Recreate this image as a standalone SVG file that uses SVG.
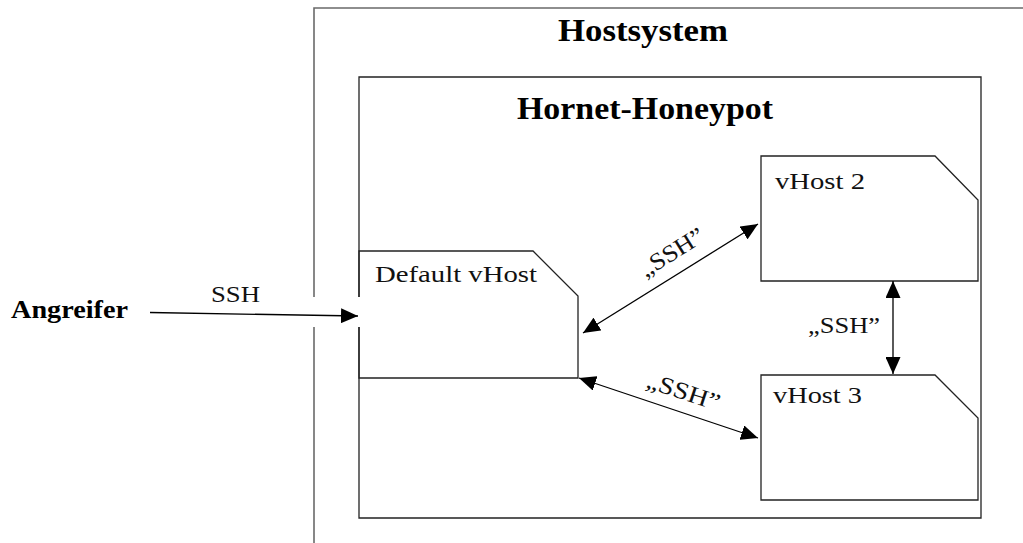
<svg xmlns="http://www.w3.org/2000/svg" width="1023" height="543" viewBox="0 0 1023 543">
  <style>
    .frame { fill: none; stroke: #6a6a6a; stroke-width: 1.6; }
    .box { fill: none; stroke: #222; stroke-width: 1.3; }
    .title { font-family: "Liberation Serif", serif; font-weight: bold; font-size: 31px; fill: #000; }
    .actor { font-family: "Liberation Serif", serif; font-weight: bold; font-size: 26px; fill: #000; }
    .label { font-family: "Liberation Serif", serif; font-size: 24px; fill: #111; }
    .conn { fill: none; stroke: #000; stroke-width: 1.3; }
  </style>
  <defs>
    <marker id="arrow" viewBox="0 0 17 15" refX="17" refY="7.5" markerWidth="17" markerHeight="15" markerUnits="userSpaceOnUse" orient="auto-start-reverse">
      <path d="M0,0 L17,7.5 L0,15 z" fill="#000"/>
    </marker>
  </defs>

  <rect width="1023" height="543" fill="#fff"/>

  <!-- host system frame (open to the right and bottom) -->
  <g id="hostsystem">
    <path class="frame" d="M1023,8 H314 V297 M314,327 V543"/>
    <text class="title" x="558" y="41" textLength="170" lengthAdjust="spacingAndGlyphs">Hostsystem</text>
  </g>

  <!-- honeypot container -->
  <g id="hornet-honeypot">
    <path class="box" d="M359,297 V77 H981 V518 H359 V327"/>
    <text class="title" x="517" y="119" textLength="256" lengthAdjust="spacingAndGlyphs">Hornet-Honeypot</text>
  </g>

  <!-- virtual hosts -->
  <g id="default-vhost">
    <path class="box" d="M359,297 V251 H533 L578,296 V378 H359 V327"/>
    <text class="label" x="375" y="282" textLength="162" lengthAdjust="spacingAndGlyphs">Default vHost</text>
  </g>

  <g id="vhost-2">
    <path class="box" d="M761,156 H935 L978,200 V281 H761 Z"/>
    <text class="label" x="775" y="189" textLength="90" lengthAdjust="spacingAndGlyphs">vHost 2</text>
  </g>

  <g id="vhost-3">
    <path class="box" d="M761,375 H935 L978,418 V500 H761 Z"/>
    <text class="label" x="773" y="403" textLength="89" lengthAdjust="spacingAndGlyphs">vHost 3</text>
  </g>

  <g id="angreifer">
    <text class="actor" x="11" y="318" textLength="117" lengthAdjust="spacingAndGlyphs">Angreifer</text>
  </g>

  <!-- connectors -->
  <g id="connectors">
    <line class="conn" x1="150" y1="312.5" x2="358" y2="316" marker-end="url(#arrow)"/>
    <text class="label" x="211" y="302" textLength="49" lengthAdjust="spacingAndGlyphs">SSH</text>

    <line class="conn" x1="583" y1="333" x2="758" y2="224" marker-start="url(#arrow)" marker-end="url(#arrow)"/>
    <text class="label" x="-36" y="0" textLength="72" lengthAdjust="spacingAndGlyphs" transform="translate(676,259) rotate(-32)">„SSH”</text>

    <line class="conn" x1="579" y1="378" x2="758" y2="438" marker-start="url(#arrow)" marker-end="url(#arrow)"/>
    <text class="label" x="-38" y="0" textLength="76" lengthAdjust="spacingAndGlyphs" transform="translate(681,399) rotate(18.4)">„SSH”</text>

    <line class="conn" x1="893" y1="281" x2="893" y2="374" marker-start="url(#arrow)" marker-end="url(#arrow)"/>
    <text class="label" x="808" y="333" textLength="72" lengthAdjust="spacingAndGlyphs">„SSH”</text>
  </g>
</svg>
